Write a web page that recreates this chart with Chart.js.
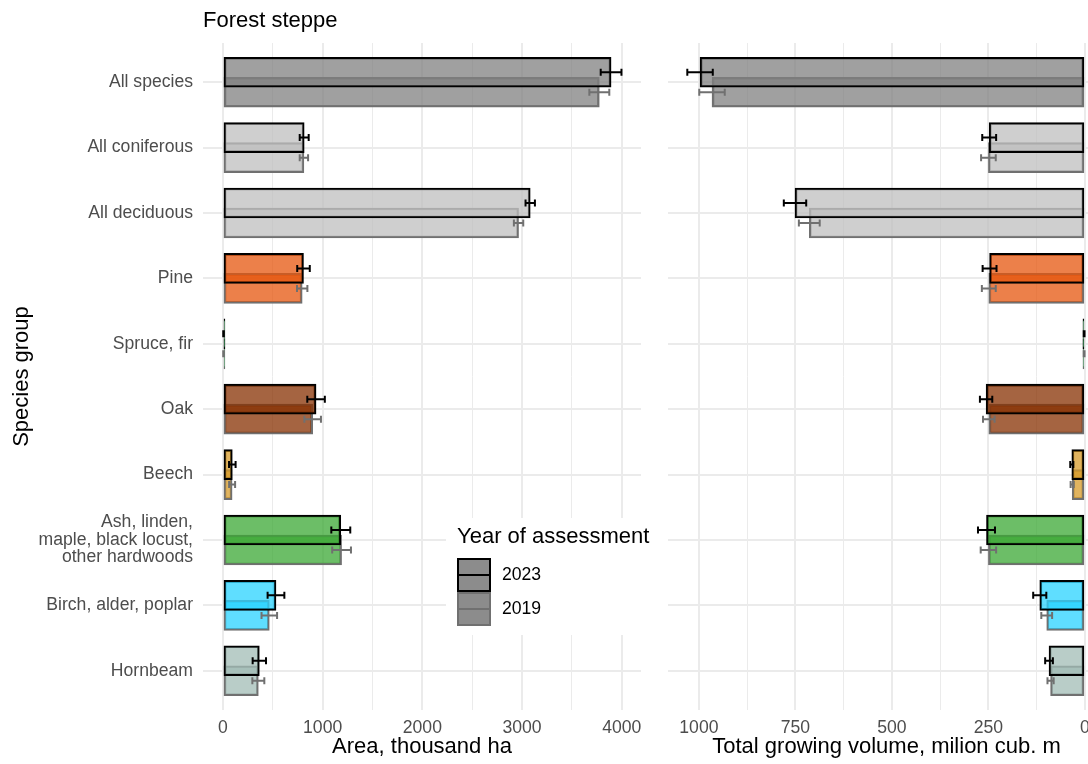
<!DOCTYPE html>
<html>
<head>
<meta charset="utf-8">
<script src="https://cdn.jsdelivr.net/npm/chart.js@4.4.1/dist/chart.umd.min.js"></script>
<style>
  html, body { margin: 0; padding: 0; background: #fff; overflow: hidden; width: 1088px; height: 764px; }
  canvas { position: absolute; left: 0; top: 0; }
</style>
</head>
<body>
<canvas id="area" width="1088" height="764"></canvas>
<canvas id="volume" width="1105" height="764"></canvas>
<script>
// Species groups (top to bottom)
const speciesGroups = [
  'All species',
  'All coniferous',
  'All deciduous',
  'Pine',
  'Spruce, fir',
  'Oak',
  'Beech',
  ['Ash, linden,', 'maple, black locust,', 'other hardwoods'],
  'Birch, alder, poplar',
  'Hornbeam'
];

// Forest area, thousand ha
const area2023    = [3893, 815, 3082, 808, 6, 934, 94, 1182, 532, 365];
const area2023Err = [ 104,  45,   47,  63, 3,  88, 33,   95,  84,  67];
const area2019    = [3775, 812, 2965, 795, 6, 900, 92, 1190, 465, 355];
const area2019Err = [ 100,  42,   47,  52, 3,  83, 30,   94,  78,  60];

// Total growing volume, million m3
const volume2023    = [997, 248, 751, 247, 2, 256, 34, 255, 117, 93];
const volume2023Err = [ 33,  18,  29,  18, 1,  16,  4,  22,  17, 10];
const volume2019    = [966, 250, 714, 249, 2, 249, 33, 250,  99, 89];
const volume2019Err = [ 33,  19,  27,  18, 1,  15,  4,  20,  14,  8];

// Axis ticks (major ticks get a label, minor ticks only a grid line)
const areaTicks   = [0, 500, 1000, 1500, 2000, 2500, 3000, 3500, 4000];
const areaLabelStep = 1000;
const volumeTicks = [0, 125, 250, 375, 500, 625, 750, 875, 1000];
const volumeLabelStep = 250;

const years = ['2023', '2019'];

// Base colour per species group
const groupColors = ['#808080', '#bfbfbf', '#bfbfbf', '#e6550d', '#1b7837',
                     '#873002', '#d79b2a', '#3ba834', '#2ad3ff', '#a2bcb6'];
const fillAlpha = 0.75;

function rgba(hex, a) {
  const n = parseInt(hex.slice(1), 16);
  return `rgba(${(n >> 16) & 255},${(n >> 8) & 255},${n & 255},${a})`;
}
const fills = groupColors.map(c => rgba(c, fillAlpha));

const FONT = "'Liberation Sans', Arial, sans-serif";
const TICK_COLOR = '#4d4d4d';
const GRID_COLOR = '#ebebeb';
const OUTLINE_2023 = '#000000';
const OUTLINE_2019 = '#707070';
const barOffset = 0.153;   // half the vertical distance between the two years' bars

// Error bars drawn on top of the bars, 2019 first then 2023
const errorBars = {
  id: 'errorBars',
  afterDatasetsDraw(chart) {
    const { ctx, scales: { x, y } } = chart;
    ctx.save();
    ctx.lineWidth = 2;
    for (let d = chart.data.datasets.length - 1; d >= 0; d--) {
      const ds = chart.data.datasets[d];
      ctx.strokeStyle = ds.borderColor;
      ds.data.forEach((pt, i) => {
        const e = ds.errors[i];
        const yp = y.getPixelForValue(pt.y);
        const x0 = x.getPixelForValue(pt.x - e);
        const x1 = x.getPixelForValue(pt.x + e);
        ctx.beginPath();
        ctx.moveTo(x0, yp); ctx.lineTo(x1, yp);
        ctx.moveTo(x0, yp - 3.5); ctx.lineTo(x0, yp + 3.5);
        ctx.moveTo(x1, yp - 3.5); ctx.lineTo(x1, yp + 3.5);
        ctx.stroke();
      });
    }
    ctx.restore();
  }
};

// Legend for the assessment years, placed inside the area panel
const yearLegend = {
  id: 'yearLegend',
  afterDraw(chart) {
    const { ctx } = chart;
    ctx.save();
    ctx.fillStyle = '#ffffff';
    ctx.fillRect(446, 518, 212, 117);
    ctx.fillStyle = '#000';
    ctx.textBaseline = 'middle';
    ctx.textAlign = 'left';
    ctx.font = `22px ${FONT}`;
    ctx.fillText('Year of assessment', 457, 537);
    chart.data.datasets.forEach((ds, k) => {
      const top = 558 + k * 34;
      ctx.fillStyle = '#8c8c8c';
      ctx.fillRect(457, top, 34, 34);
      ctx.strokeStyle = ds.borderColor;
      ctx.lineWidth = 2;
      ctx.strokeRect(458, top + 1, 32, 32);
      ctx.beginPath();
      ctx.moveTo(458, top + 17); ctx.lineTo(490, top + 17);
      ctx.stroke();
      ctx.fillStyle = '#000';
      ctx.font = `17.6px ${FONT}`;
      ctx.fillText(ds.label, 502, top + 17);
    });
    ctx.restore();
  }
};

function makeDatasets(v2023, e2023, v2019, e2019) {
  return [
    {
      label: years[0],
      data: v2023.map((v, i) => ({ x: v, y: i - barOffset })),
      errors: e2023,
      backgroundColor: fills,
      borderColor: OUTLINE_2023,
      borderWidth: 2,
      borderSkipped: false,
      barThickness: 30,
      minBarLength: 2,
      grouped: false
    },
    {
      label: years[1],
      data: v2019.map((v, i) => ({ x: v, y: i + barOffset })),
      errors: e2019,
      backgroundColor: fills,
      borderColor: OUTLINE_2019,
      borderWidth: 2,
      borderSkipped: false,
      barThickness: 30,
      minBarLength: 2,
      grouped: false
    }
  ];
}

function xScale(ticks, step, min, max, reverse, title) {
  return {
    type: 'linear',
    min, max, reverse,
    border: { display: false },
    grid: {
      color: GRID_COLOR,
      drawTicks: false,
      lineWidth: c => (c.tick && c.tick.value % step === 0) ? 2 : 1
    },
    afterBuildTicks: s => { s.ticks = ticks.map(v => ({ value: v })); },
    afterFit: s => { s.height = 54; },
    ticks: {
      autoSkip: false,
      maxRotation: 0,
      padding: 8,
      color: TICK_COLOR,
      font: { family: FONT, size: 17.6 },
      callback: v => (v % step === 0 ? String(v) : '')
    },
    title: {
      display: true,
      text: title,
      color: '#000',
      font: { family: FONT, size: 22 },
      padding: { top: 0, bottom: 4 }
    }
  };
}

function yScale(showLabels) {
  return {
    type: 'linear',
    min: -0.6, max: speciesGroups.length - 0.4,
    reverse: true,
    offset: false,
    border: { display: false },
    grid: { color: GRID_COLOR, lineWidth: 2, drawTicks: false, offset: false },
    afterBuildTicks: s => { s.ticks = speciesGroups.map((_, i) => ({ value: i })); },
    afterFit: s => { s.width = showLabels ? 203 : 0; },
    ticks: {
      display: showLabels,
      autoSkip: false,
      padding: 10,
      color: TICK_COLOR,
      font: { family: FONT, size: 17.6, lineHeight: 1.0 },
      callback: v => speciesGroups[v]
    },
    title: {
      display: showLabels,
      text: 'Species group',
      color: '#000',
      font: { family: FONT, size: 22 },
      padding: { top: 9, bottom: 0 }
    }
  };
}

Chart.defaults.font.family = FONT;

new Chart(document.getElementById('area'), {
  type: 'bar',
  data: { datasets: makeDatasets(area2023, area2023Err, area2019, area2019Err) },
  options: {
    indexAxis: 'y',
    responsive: false,
    animation: false,
    devicePixelRatio: 1,
    events: [],
    layout: { padding: { left: 0, right: 447, top: 0, bottom: 0 } },
    scales: {
      x: xScale(areaTicks, areaLabelStep, -200, 4193, false, 'Area, thousand ha'),
      y: yScale(true)
    },
    plugins: {
      legend: { display: false },
      tooltip: { enabled: false },
      title: {
        display: true,
        text: 'Forest steppe',
        align: 'start',
        fullSize: false,
        color: '#000',
        font: { family: FONT, size: 22, weight: 'normal' },
        padding: { top: 8, bottom: 8.6 }
      }
    }
  },
  plugins: [errorBars, yearLegend]
});

new Chart(document.getElementById('volume'), {
  type: 'bar',
  data: { datasets: makeDatasets(volume2023, volume2023Err, volume2019, volume2019Err) },
  options: {
    indexAxis: 'y',
    responsive: false,
    animation: false,
    devicePixelRatio: 1,
    events: [],
    layout: { padding: { left: 668, right: 0, top: 43, bottom: 0 } },
    scales: {
      x: xScale(volumeTicks, volumeLabelStep, -52, 1080, true, 'Total growing volume, milion cub. m'),
      y: yScale(false)
    },
    plugins: {
      legend: { display: false },
      tooltip: { enabled: false },
      title: { display: false }
    }
  },
  plugins: [errorBars]
});
</script>
</body>
</html>
